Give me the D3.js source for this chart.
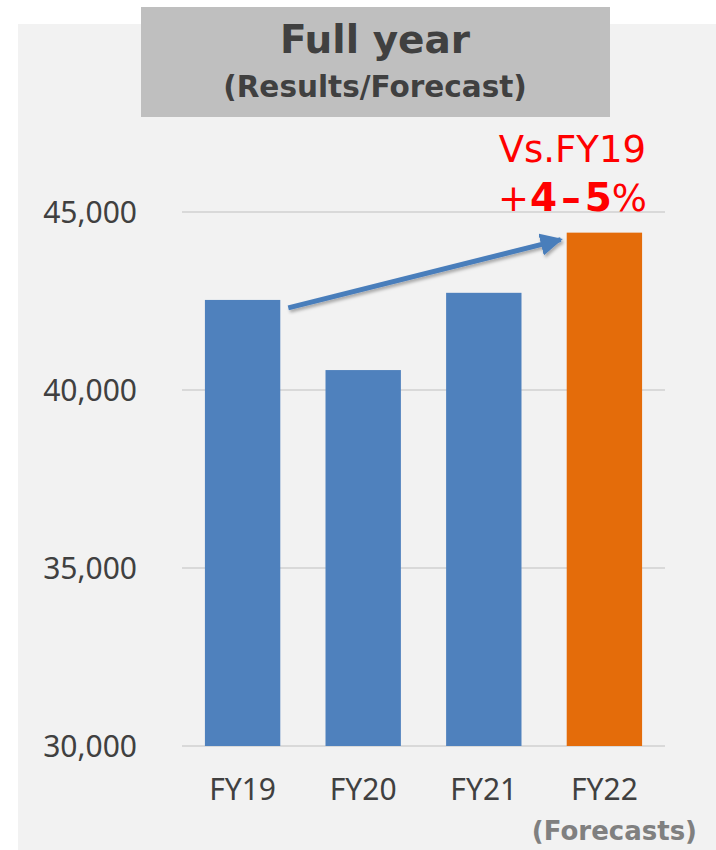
<!DOCTYPE html>
<html>
<head>
  <meta charset="UTF-8" />
  <title>Full year (Results/Forecast)</title>
  <style>
    html, body { margin: 0; padding: 0; background: #ffffff; }
    svg { display: block; }
  </style>
</head>
<body>
  <div id="chart"></div>
  <script src="https://d3js.org/d3.v7.min.js"></script>
  <script>
    // données
    const years = ["FY19", "FY20", "FY21", "FY22"];
    const sales = [42530, 40560, 42730, 44420];
    const barColors = ["#4f81bd", "#4f81bd", "#4f81bd", "#e46c0a"];
    const yTicks = [30000, 35000, 40000, 45000];

    const W = 716, H = 850;
    const margin = { top: 212, left: 182, right: 51, bottom: 104 };

    const svg = d3.select("#chart").append("svg")
      .attr("width", W)
      .attr("height", H);

    // fond du panneau
    svg.append("rect")
      .attr("x", 18).attr("y", 24)
      .attr("width", W - 18).attr("height", H - 24)
      .attr("fill", "#f2f2f2");

    const x = d3.scaleBand()
      .domain(years)
      .range([margin.left, W - margin.right])
      .paddingInner(0.375)
      .paddingOuter(0.19);

    const y = d3.scaleLinear()
      .domain([30000, 45000])
      .range([H - margin.bottom, margin.top]);

    // grille
    svg.append("g")
      .selectAll("line")
      .data(yTicks)
      .join("line")
      .attr("x1", margin.left)
      .attr("x2", W - margin.right)
      .attr("y1", d => y(d))
      .attr("y2", d => y(d))
      .attr("stroke", "#d9d9d9")
      .attr("stroke-width", 2);

    // axe Y (sans trait)
    const yAxis = svg.append("g")
      .attr("transform", `translate(${margin.left - 42},0)`)
      .call(d3.axisLeft(y).tickValues(yTicks).tickSize(0).tickFormat(d3.format(",")));
    yAxis.select(".domain").remove();
    yAxis.selectAll("text")
      .attr("font-family", "'Noto Sans', sans-serif")
      .attr("font-size", 30)
      .attr("fill", "#404040")
      .attr("dx", 0)
      .attr("dy", "0.36em");

    // barres
    svg.append("g")
      .selectAll("rect")
      .data(years.map((yr, i) => ({ yr, v: sales[i], c: barColors[i] })))
      .join("rect")
      .attr("x", d => x(d.yr))
      .attr("y", d => y(d.v))
      .attr("width", x.bandwidth())
      .attr("height", d => y(30000) - y(d.v))
      .attr("fill", d => d.c);

    // axe X
    const xAxis = svg.append("g")
      .attr("transform", `translate(0,${y(30000) + 30})`)
      .call(d3.axisBottom(x).tickSize(0));
    xAxis.select(".domain").remove();
    xAxis.selectAll("text")
      .attr("font-family", "'Noto Sans', sans-serif")
      .attr("font-size", 30)
      .attr("fill", "#404040")
      .attr("dy", "0.71em");

    svg.append("text")
      .attr("x", 697).attr("y", 840)
      .attr("text-anchor", "end")
      .attr("font-family", "'DejaVu Sans', sans-serif")
      .attr("font-weight", "bold")
      .attr("font-size", 26)
      .attr("fill", "#808080")
      .text("(Forecasts)");

    // titre
    svg.append("rect")
      .attr("x", 141).attr("y", 7)
      .attr("width", 469).attr("height", 110)
      .attr("fill", "#bfbfbf");
    svg.append("text")
      .attr("x", 375).attr("y", 53)
      .attr("text-anchor", "middle")
      .attr("font-family", "'DejaVu Sans', sans-serif")
      .attr("font-weight", "bold")
      .attr("font-size", 39)
      .attr("fill", "#404040")
      .text("Full year");
    svg.append("text")
      .attr("x", 375).attr("y", 97)
      .attr("text-anchor", "middle")
      .attr("font-family", "'DejaVu Sans', sans-serif")
      .attr("font-weight", "bold")
      .attr("font-size", 29.5)
      .attr("fill", "#404040")
      .text("(Results/Forecast)");

    // flèche FY19 -> FY22
    const defs = svg.append("defs");
    defs.append("marker")
      .attr("id", "head")
      .attr("viewBox", "0 0 10 10")
      .attr("refX", 9).attr("refY", 5)
      .attr("markerWidth", 4.5).attr("markerHeight", 4.5)
      .attr("orient", "auto")
      .append("path")
      .attr("d", "M0,0 L10,5 L0,10 Z")
      .attr("fill", "#4a7ebb");
    defs.append("filter")
      .attr("id", "shadow")
      .append("feDropShadow")
      .attr("dx", 1.5).attr("dy", 2.5).attr("stdDeviation", 1.5)
      .attr("flood-color", "#000").attr("flood-opacity", 0.3);

    const x0 = x("FY19") + x.bandwidth() + 8;
    const x1 = x("FY22") - 6;
    svg.append("line")
      .attr("x1", x0).attr("y1", y(sales[0]) + 8)
      .attr("x2", x1).attr("y2", y(sales[3]) + 7)
      .attr("stroke", "#4a7ebb")
      .attr("stroke-width", 5)
      .attr("marker-end", "url(#head)")
      .attr("filter", "url(#shadow)");

    // annotation
    const ann = svg.append("g")
      .attr("font-family", "'DejaVu Sans', sans-serif")
      .attr("fill", "#ff0000")
      .attr("text-anchor", "end");
    ann.append("text")
      .attr("x", 646).attr("y", 162)
      .attr("font-size", 37)
      .text("Vs.FY19");
    const t2 = ann.append("text")
      .attr("x", 647).attr("y", 211)
      .attr("font-size", 37);
    t2.append("tspan").text("+");
    t2.append("tspan").attr("font-weight", "bold").attr("font-size", 39).attr("dx", 1).text("4");
    t2.append("tspan").attr("font-weight", "bold").attr("font-size", 39).attr("dx", 4).text("–");
    t2.append("tspan").attr("font-weight", "bold").attr("font-size", 39).attr("dx", 4).text("5");
    t2.append("tspan").text("%");
  </script>
</body>
</html>
